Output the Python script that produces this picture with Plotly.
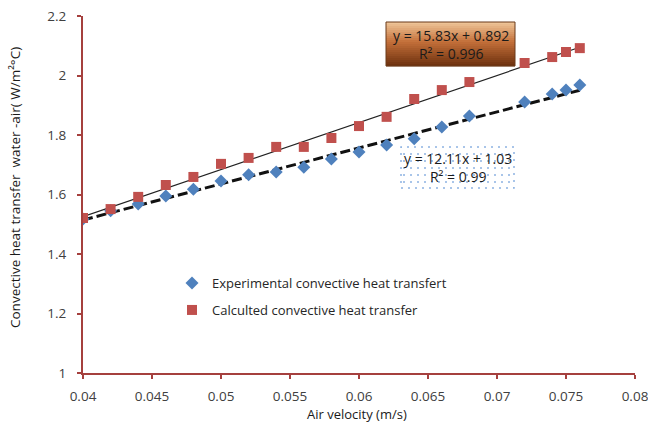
import plotly.graph_objects as go

# ---- data ----
x_calc = [0.040, 0.042, 0.044, 0.046, 0.048, 0.050, 0.052, 0.054, 0.056, 0.058,
          0.060, 0.062, 0.064, 0.066, 0.068, 0.072, 0.074, 0.075, 0.076]
y_calc = [1.521, 1.551, 1.592, 1.632, 1.659, 1.703, 1.723, 1.760, 1.760, 1.790,
          1.830, 1.861, 1.921, 1.951, 1.978, 2.042, 2.062, 2.079, 2.092]

x_exp = [0.040, 0.042, 0.044, 0.046, 0.048, 0.050, 0.052, 0.054, 0.056, 0.058,
         0.060, 0.062, 0.064, 0.066, 0.068, 0.072, 0.074, 0.075, 0.076]
y_exp = [1.518, 1.545, 1.568, 1.595, 1.618, 1.645, 1.666, 1.676, 1.692, 1.719,
         1.743, 1.766, 1.787, 1.827, 1.864, 1.911, 1.938, 1.951, 1.968]

calc_slope, calc_intercept = 15.83, 0.892
exp_slope, exp_intercept = 12.11, 1.03

x_ticks = [0.04, 0.045, 0.05, 0.055, 0.06, 0.065, 0.07, 0.075, 0.08]
x_tick_labels = ["0.04", "0.045", "0.05", "0.055", "0.06", "0.065", "0.07", "0.075", "0.08"]
y_ticks = [1, 1.2, 1.4, 1.6, 1.8, 2, 2.2]
y_tick_labels = ["1", "1.2", "1.4", "1.6", "1.8", "2", "2.2"]

eq_calc = "y = 15.83x + 0.892<br>R² = 0.996"
eq_exp = "y = 12.11x + 1.03<br>R² = 0.99"
x_title = "Air velocity (m/s)"
y_title = "Convective heat transfer  water -air( W/m²°C)"

FONT = "'Open Sans', 'Noto Sans', sans-serif"
AXIS_COL = "#A5403E"
TXT = "#262626"

fig = go.Figure()

# trendlines
tx_c = [min(x_calc), max(x_calc)]
fig.add_trace(go.Scatter(x=tx_c, y=[calc_slope * v + calc_intercept for v in tx_c],
                         mode="lines", line=dict(color="#222222", width=1.2),
                         showlegend=False, hoverinfo="skip"))
tx_e = [min(x_exp), max(x_exp)]
fig.add_trace(go.Scatter(x=tx_e, y=[exp_slope * v + exp_intercept for v in tx_e],
                         mode="lines", line=dict(color="#111111", width=3, dash="10px,4px"),
                         showlegend=False, hoverinfo="skip"))

fig.add_trace(go.Scatter(x=x_exp, y=y_exp, mode="markers",
                         name="Experimental convective heat transfert",
                         marker=dict(symbol="diamond", size=10, color="#4F81BD"),
                         legend="legend"))
fig.add_trace(go.Scatter(x=x_calc, y=y_calc, mode="markers",
                         name="Calculted convective heat transfer",
                         marker=dict(symbol="square", size=10, color="#C0504D"),
                         legend="legend2"))

# plot area pixel geometry helpers (figure is a bit wider than the 648px window,
# so the last tick label is cut by the window edge as in the original)
W, H = 660, 428
L, R, T, B = 83, 635, 16, 373
def px(p):
    return (p - L) / (R - L)
def py(p):
    return (B - p) / (B - T)

shapes = []
# gradient box for calculated equation
bx0, bx1, by0, by1 = 386, 515, 22, 66
stops = [(0.0, (240, 200, 155)), (0.45, (196, 112, 58)), (1.0, (108, 48, 14))]
def interp(t):
    for (t0, c0), (t1, c1) in zip(stops[:-1], stops[1:]):
        if t <= t1:
            f = (t - t0) / (t1 - t0)
            return tuple(int(c0[i] + f * (c1[i] - c0[i])) for i in range(3))
    return stops[-1][1]
n = 22
h = (by1 - by0) / n
for i in range(n):
    c = interp((i + 0.5) / n)
    shapes.append(dict(type="rect", xref="paper", yref="paper",
                       x0=px(bx0), x1=px(bx1), y0=py(by0 + (i + 1) * h + 0.3), y1=py(by0 + i * h),
                       fillcolor="rgb(%d,%d,%d)" % c, line=dict(width=0), layer="above"))
shapes.append(dict(type="rect", xref="paper", yref="paper",
                   x0=px(bx0), x1=px(bx1), y0=py(by1), y1=py(by0),
                   fillcolor="rgba(0,0,0,0)", line=dict(color="#6B3A1A", width=1), layer="above"))

# dotted box for experimental equation
dx0, dx1, dy0, dy1 = 401, 514, 147, 188
shapes.append(dict(type="rect", xref="paper", yref="paper",
                   x0=px(dx0), x1=px(dx1), y0=py(dy1), y1=py(dy0),
                   fillcolor="white", line=dict(color="#8DB3E2", width=1.5, dash="2px,5px"),
                   layer="above"))
yy = dy0 + 7
while yy < dy1 - 3:
    shapes.append(dict(type="line", xref="paper", yref="paper",
                       x0=px(dx0 + 2), x1=px(dx1 - 2), y0=py(yy), y1=py(yy),
                       line=dict(color="#8DB3E2", width=1.5, dash="2px,5px"), layer="above"))
    yy += 7

axis_common = dict(showgrid=False, zeroline=False, showline=True, linecolor=AXIS_COL, linewidth=2,
                   ticks="outside", tickcolor=AXIS_COL, ticklen=4, tickwidth=2,
                   tickfont=dict(size=13.5, color="#404040"), automargin=False)

def ann(text, x, y, size, angle=0):
    return dict(text=text, xref="paper", yref="paper", x=x, y=y, xanchor="center", yanchor="middle",
                showarrow=False, font=dict(size=size, color="#1a1a1a"), align="center", textangle=angle)

fig.update_layout(
    width=W, height=H,
    margin=dict(l=L, r=W - R, t=T, b=H - B, autoexpand=False),
    paper_bgcolor="white", plot_bgcolor="white",
    font=dict(family=FONT, size=12, color=TXT),
    shapes=shapes,
    legend=dict(x=px(172), y=py(268), xanchor="left", yanchor="top",
                bgcolor="rgba(0,0,0,0)", font=dict(size=13, color=TXT), itemwidth=30),
    legend2=dict(x=px(172), y=py(295), xanchor="left", yanchor="top",
                 bgcolor="rgba(0,0,0,0)", font=dict(size=13, color=TXT), itemwidth=30),
    annotations=[
        ann(eq_calc, px((bx0 + bx1) / 2), py((by0 + by1) / 2), 14),
        ann(eq_exp, px((dx0 + dx1) / 2), py((dy0 + dy1) / 2), 14),
        ann(x_title, px(357), py(414), 13),
        ann(y_title, px(15), py(188), 13.5, -90),
    ],
    xaxis=dict(range=[0.04, 0.08], tickvals=x_ticks, ticktext=x_tick_labels,
               ticklabelstandoff=6, **axis_common),
    yaxis=dict(range=[1, 2.2], tickvals=y_ticks, ticktext=y_tick_labels,
               ticklabelstandoff=8, **axis_common),
)

fig.write_html("out.html", config={"displayModeBar": False},
               post_script="document.body.style.margin='0';document.body.style.padding='0';"
                           "document.body.style.overflow='hidden';"
                           "document.documentElement.style.overflow='hidden';")
